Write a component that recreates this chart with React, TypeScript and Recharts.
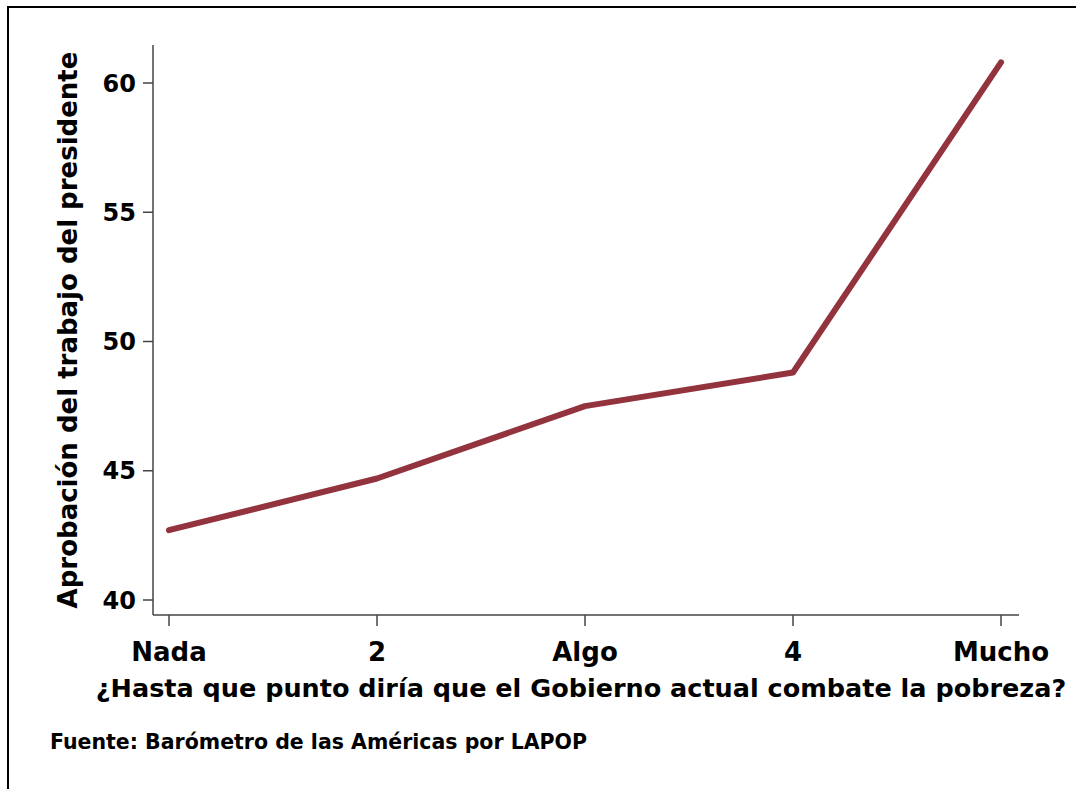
import { Line, LineChart, XAxis, YAxis } from 'recharts'

const categories = ['Nada', '2', 'Algo', '4', 'Mucho']
const aprobacion = [42.7, 44.7, 47.5, 48.8, 60.8]
const yTicks = [40, 45, 50, 55, 60]

const data = categories.map((nivel, i) => ({ nivel, aprobacion: aprobacion[i] }))

const font = '"DejaVu Sans", sans-serif'
const yTickStyle = { fontSize: 24, fontWeight: 700, fill: '#000', fontFamily: font }
const xTickStyle = { fontSize: 26, fontWeight: 700, fill: '#000', fontFamily: font }

export default function App() {
  return (
    <div style={{ position: 'absolute', left: 0, top: 0, width: 1076, height: 789, overflow: 'hidden', background: '#fff', fontFamily: font }}>
      <div
        style={{
          position: 'absolute',
          left: 7,
          top: 6,
          width: 1200,
          height: 900,
          borderTop: '2.5px solid #000',
          borderLeft: '2.5px solid #000',
        }}
      />
      <LineChart
        width={1076}
        height={789}
        data={data}
        margin={{ top: 45, right: 57, left: 0, bottom: 0 }}
        style={{ position: 'absolute', left: 0, top: 0 }}
      >
        <XAxis
          dataKey="nivel"
          height={174}
          padding={{ left: 16, right: 18 }}
          tickSize={11}
          tickMargin={17}
          tick={xTickStyle}
          stroke="#444"
          axisLine={{ stroke: '#444', strokeWidth: 1.5 }}
          tickLine={{ stroke: '#444', strokeWidth: 1.5 }}
        />
        <YAxis
          width={153}
          type="number"
          domain={[39.42, 61.47]}
          allowDataOverflow
          ticks={yTicks}
          tickSize={10}
          tickMargin={7}
          tick={yTickStyle}
          stroke="#444"
          axisLine={{ stroke: '#444', strokeWidth: 1.5 }}
          tickLine={{ stroke: '#444', strokeWidth: 1.5 }}
        />
        <Line
          dataKey="aprobacion"
          stroke="#93333D"
          strokeWidth={6}
          strokeLinecap="round"
          strokeLinejoin="round"
          dot={false}
          activeDot={false}
          isAnimationActive={false}
        />
      </LineChart>
      <div
        style={{
          position: 'absolute',
          left: 68,
          top: 330,
          transform: 'translate(-50%, -50%) rotate(-90deg)',
          whiteSpace: 'nowrap',
          fontSize: 26,
          fontWeight: 700,
          lineHeight: 1,
        }}
      >
        Aprobación del trabajo del presidente
      </div>
      <div
        style={{
          position: 'absolute',
          left: 581,
          top: 689,
          transform: 'translate(-50%, -50%)',
          whiteSpace: 'nowrap',
          fontSize: 25.5,
          fontWeight: 700,
          lineHeight: 1,
        }}
      >
        ¿Hasta que punto diría que el Gobierno actual combate la pobreza?
      </div>
      <div
        style={{
          position: 'absolute',
          left: 50,
          top: 742,
          transform: 'translateY(-50%)',
          whiteSpace: 'nowrap',
          fontSize: 20.5,
          fontWeight: 700,
          lineHeight: 1,
        }}
      >
        Fuente: Barómetro de las Américas por LAPOP
      </div>
    </div>
  )
}
